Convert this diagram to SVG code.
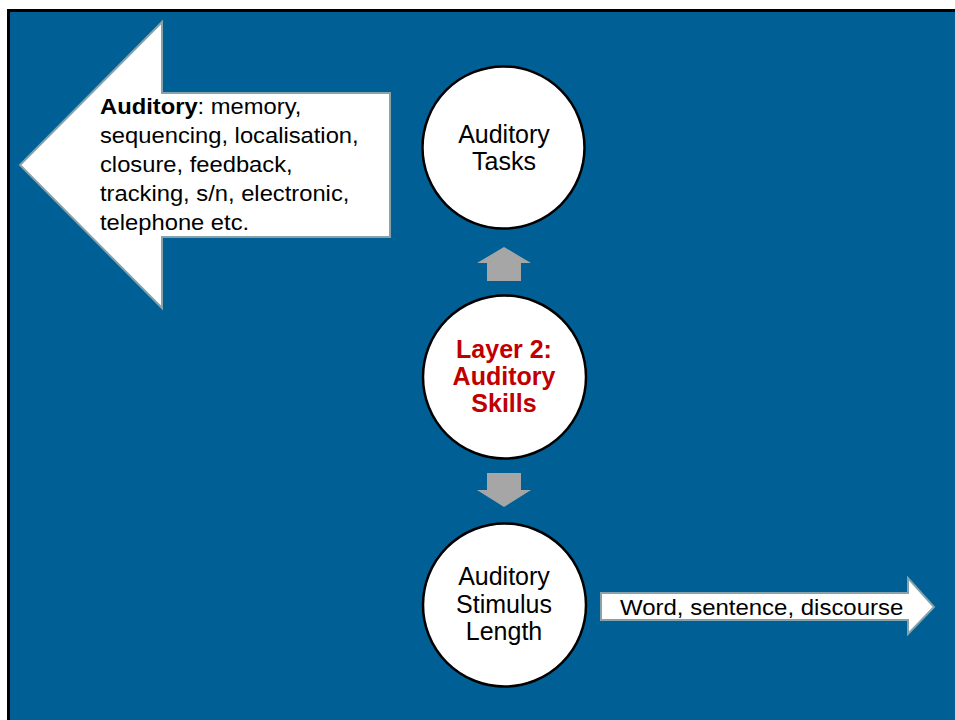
<svg xmlns="http://www.w3.org/2000/svg" width="955" height="720" viewBox="0 0 955 720">
  <style>
    .panel { fill: #005f94; stroke: #000000; stroke-width: 3; }
    .callout { fill: #ffffff; stroke: #86a2aa; stroke-width: 2; stroke-linejoin: miter; }
    .node { fill: #ffffff; stroke: #000000; stroke-width: 2.5; }
    .flow { fill: #a6a6a6; stroke: none; }
    .txt { font-family: "Liberation Sans", Arial, sans-serif; fill: #000000; }
    .ctr { text-anchor: middle; font-size: 25px; }
    .key { font-weight: bold; fill: #c00000; font-size: 25px; }
  </style>

  <!-- background panel -->
  <rect x="0" y="0" width="955" height="720" fill="#ffffff"/>
  <rect class="panel" x="8.5" y="10.5" width="960" height="720"/>

  <!-- left callout arrow -->
  <g id="callout-skills">
    <polygon class="callout" points="20,165 162,22 162,93 390,93 390,237 162,237 162,308"/>
    <g class="txt" font-size="22" transform="translate(100,0) scale(1.08,1)">
      <text x="0" y="114"><tspan font-weight="bold">Auditory</tspan>: memory,</text>
      <text x="0" y="143">sequencing, localisation,</text>
      <text x="0" y="172">closure, feedback,</text>
      <text x="0" y="201">tracking, s/n, electronic,</text>
      <text x="0" y="230">telephone etc.</text>
    </g>
  </g>

  <!-- right callout arrow -->
  <g id="callout-length">
    <polygon class="callout" points="601,593 908,593 908,578 934,607 908,634 908,620 601,620"/>
    <text class="txt" font-size="22" x="0" y="615" transform="translate(620,0) scale(1.09,1)">Word, sentence, discourse</text>
  </g>

  <!-- flow arrows between nodes -->
  <g id="connectors">
    <polygon class="flow" points="504,247 531,263 521,263 521,281 487,281 487,263 477,263"/>
    <polygon class="flow" points="487,473 521,473 521,490 531,490 504,507 477,490 487,490"/>
  </g>

  <!-- nodes -->
  <g id="node-tasks">
    <circle class="node" cx="503.5" cy="147.5" r="81"/>
    <text class="txt ctr" x="504" y="143">Auditory</text>
    <text class="txt ctr" x="504" y="170">Tasks</text>
  </g>

  <g id="node-skills">
    <circle class="node" cx="504.5" cy="377" r="81.5"/>
    <text class="txt ctr key" x="504" y="358">Layer 2:</text>
    <text class="txt ctr key" x="504" y="385">Auditory</text>
    <text class="txt ctr key" x="504" y="412">Skills</text>
  </g>

  <g id="node-length">
    <circle class="node" cx="504.5" cy="605" r="81.5"/>
    <text class="txt ctr" x="504" y="585">Auditory</text>
    <text class="txt ctr" x="504" y="613">Stimulus</text>
    <text class="txt ctr" x="504" y="640">Length</text>
  </g>
</svg>
